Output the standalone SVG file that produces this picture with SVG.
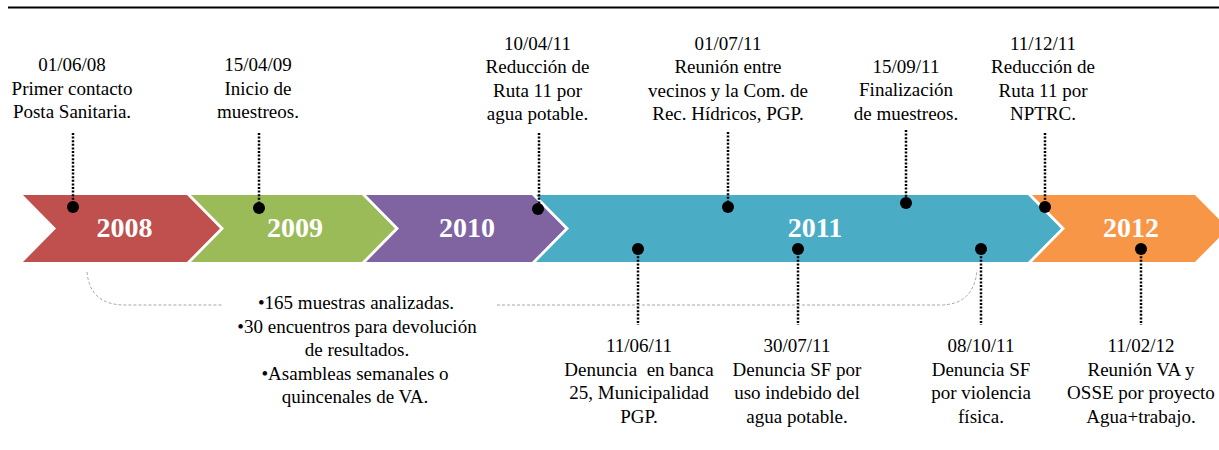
<svg xmlns="http://www.w3.org/2000/svg" width="1219" height="450" viewBox="0 0 1219 450">
<style>
.t{font-family:"Liberation Serif","Times New Roman",serif;font-size:19px;fill:#000;text-anchor:middle}
.y{font-family:"Liberation Serif","Times New Roman",serif;font-size:28px;font-weight:bold;fill:#fff;text-anchor:middle}
.dl{stroke:#000;stroke-width:2.5;stroke-dasharray:2 1.6;fill:none}
.br{stroke:#a6a6a6;stroke-width:1;stroke-dasharray:3 2;fill:none}
.dot{fill:#000}
</style>
<rect width="1219" height="450" fill="#fff"/>
<line x1="8" y1="7.5" x2="1219" y2="7.5" stroke="#000" stroke-width="2"/>
<g id="years">
<g id="y2008"><polygon points="23,195 187,195 220,228.5 187,262 23,262 56,228.5" fill="#C0504D"/><text class="y" x="124.5" y="237">2008</text></g>
<g id="y2009"><polygon points="191,195 362,195 395,228.5 362,262 191,262 224,228.5" fill="#9BBB59"/><text class="y" x="295" y="237">2009</text></g>
<g id="y2010"><polygon points="366,195 532,195 565,228.5 532,262 366,262 399,228.5" fill="#8064A2"/><text class="y" x="467" y="237">2010</text></g>
<g id="y2011"><polygon points="536,195 1028,195 1061,228.5 1028,262 536,262 569,228.5" fill="#4BACC6"/><text class="y" x="815" y="237">2011</text></g>
<g id="y2012"><polygon points="1032,195 1195,195 1228,228.5 1195,262 1032,262 1065,228.5" fill="#F79646"/><text class="y" x="1131" y="237">2012</text></g>
</g>
<g id="connectors">
<line class="dl" x1="73" y1="133" x2="73" y2="207"/>
<line class="dl" x1="259" y1="133" x2="259" y2="208"/>
<line class="dl" x1="539" y1="133" x2="539" y2="209"/>
<line class="dl" x1="728" y1="132" x2="728" y2="207"/>
<line class="dl" x1="906" y1="130" x2="906" y2="203"/>
<line class="dl" x1="1045" y1="133" x2="1045" y2="207"/>
<line class="dl" x1="638" y1="249" x2="638" y2="325"/>
<line class="dl" x1="798" y1="249" x2="798" y2="325"/>
<line class="dl" x1="981" y1="249" x2="981" y2="325"/>
<line class="dl" x1="1141" y1="249" x2="1141" y2="325"/>
</g>
<g id="bracket">
<path class="br" d="M87 272 Q90 305 125 305 L222 305"/>
<path class="br" d="M497 305 L940 305 Q974 305 977 270"/>
</g>
<g id="summary">
<text class="t" x="356" y="309">•165 muestras analizadas.</text>
<text class="t" x="357" y="332.5">•30 encuentros para devolución</text>
<text class="t" x="357" y="356">de resultados.</text>
<text class="t" x="355" y="379.5">•Asambleas semanales o</text>
<text class="t" x="355" y="403">quincenales de VA.</text>
</g>
<g id="e1"><circle class="dot" cx="73" cy="207" r="6"/><text class="t" x="72"><tspan x="72" y="70.5">01/06/08</tspan><tspan x="72" y="94.5">Primer contacto</tspan><tspan x="72" y="118">Posta Sanitaria.</tspan></text></g>
<g id="e2"><circle class="dot" cx="259" cy="208" r="6"/><text class="t"><tspan x="258" y="70.5">15/04/09</tspan><tspan x="258" y="94.5">Inicio de</tspan><tspan x="258" y="118">muestreos.</tspan></text></g>
<g id="e3"><circle class="dot" cx="538" cy="209" r="6"/><text class="t"><tspan x="537.5" y="49.5">10/04/11</tspan><tspan x="537.5" y="73">Reducción de</tspan><tspan x="537.5" y="96.5">Ruta 11 por</tspan><tspan x="537.5" y="120">agua potable.</tspan></text></g>
<g id="e4"><circle class="dot" cx="728" cy="207" r="6"/><text class="t"><tspan x="728" y="49.5">01/07/11</tspan><tspan x="728" y="73">Reunión entre</tspan><tspan x="728" y="96.5">vecinos y la Com. de</tspan><tspan x="728" y="120">Rec. Hídricos, PGP.</tspan></text></g>
<g id="e5"><circle class="dot" cx="906" cy="203" r="6"/><text class="t"><tspan x="906" y="72.5">15/09/11</tspan><tspan x="906" y="96">Finalización</tspan><tspan x="906" y="119.5">de muestreos.</tspan></text></g>
<g id="e6"><circle class="dot" cx="1045" cy="207" r="6"/><text class="t"><tspan x="1043" y="49.5">11/12/11</tspan><tspan x="1043" y="73">Reducción de</tspan><tspan x="1043" y="96.5">Ruta 11 por</tspan><tspan x="1043" y="120">NPTRC.</tspan></text></g>
<g id="e7"><circle class="dot" cx="638" cy="249" r="6"/><text class="t" xml:space="preserve"><tspan x="639" y="352">11/06/11</tspan><tspan x="639" y="375.5">Denuncia  en banca</tspan><tspan x="639" y="399">25, Municipalidad</tspan><tspan x="639" y="422.5">PGP.</tspan></text></g>
<g id="e8"><circle class="dot" cx="798" cy="249" r="6"/><text class="t"><tspan x="797" y="352">30/07/11</tspan><tspan x="797" y="375.5">Denuncia SF por</tspan><tspan x="797" y="399">uso indebido del</tspan><tspan x="797" y="422.5">agua potable.</tspan></text></g>
<g id="e9"><circle class="dot" cx="981" cy="249" r="6"/><text class="t"><tspan x="981" y="352">08/10/11</tspan><tspan x="981" y="375.5">Denuncia SF</tspan><tspan x="981" y="399">por violencia</tspan><tspan x="981" y="422.5">física.</tspan></text></g>
<g id="e10"><circle class="dot" cx="1141" cy="249" r="6"/><text class="t"><tspan x="1141" y="352">11/02/12</tspan><tspan x="1141" y="375.5">Reunión VA y</tspan><tspan x="1141" y="399">OSSE por proyecto</tspan><tspan x="1141" y="422.5">Agua+trabajo.</tspan></text></g>
</svg>
